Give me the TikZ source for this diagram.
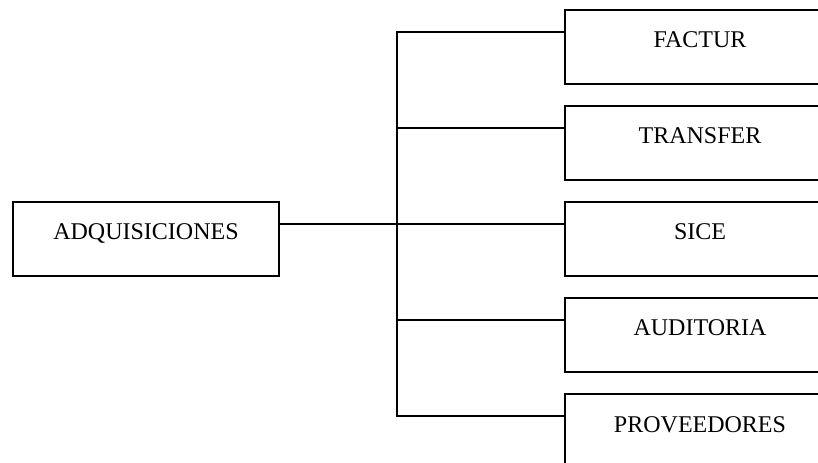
\documentclass[tikz,border=0pt]{standalone}
\usepackage{fontspec}
\setmainfont{Liberation Serif}
\usetikzlibrary{positioning}

\tikzset{
  box/.style={draw,line width=1.5pt,rectangle,inner sep=0pt,
    text height=28.5pt,text depth=27pt,font=\fontsize{18}{20}\selectfont},
  rbox/.style={box,minimum width=202.5pt},
  lbox/.style={box,minimum width=199.5pt},
  link/.style={line width=1.5pt}
}
% connector height on a box edge
\newcommand{\tap}[2]{([yshift=-17.25pt]#1.north #2)}

\begin{document}
\begin{tikzpicture}[x=0.75pt,y=-0.75pt,node distance=72pt,on grid]
      \useasboundingbox (0,0) rectangle (818,463);
      \node[lbox] (adq) at (146,239) {ADQUISICIONES};
      \node[rbox] (sice) [right=415.5pt of adq] {SICE};
      \node[rbox] (transfer) [above=of sice] {TRANSFER};
      \node[rbox] (factur) [above=of transfer] {FACTUR};
      \node[rbox] (auditoria) [below=of sice] {AUDITORIA};
      \node[rbox] (proveedores) [below=of auditoria] {PROVEEDORES};
      \coordinate (bus) at (397,225);
      \draw[link] \tap{adq}{east} -- \tap{sice}{west};
      \draw[link] \tap{factur}{west} -| (bus) |- \tap{proveedores}{west};
      \draw[link] \tap{transfer}{west} -| (bus);
      \draw[link] \tap{auditoria}{west} -| (bus);
    \end{tikzpicture}
\end{document}
